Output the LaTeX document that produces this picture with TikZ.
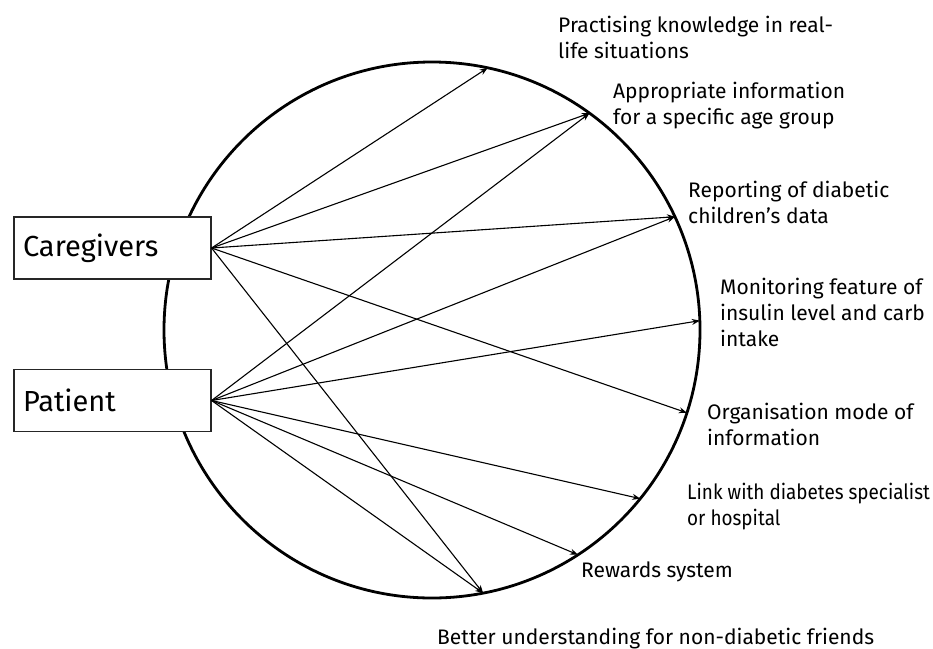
\documentclass[tikz,border=0pt]{standalone}
\usepackage{fontspec}
\setmainfont{Fira Sans}
\newfontfamily\narrowsans[FakeStretch=0.9]{Fira Sans}
\usetikzlibrary{arrows.meta}
\begin{document}
\begin{tikzpicture}[x=1pt,y=-1pt,
  ring/.style={circle,draw,line width=2.8pt,minimum size=536pt,inner sep=0pt,outer sep=0pt},
  actor/.style={draw=black!85,line width=1.2pt,fill=white,minimum width=197pt,minimum height=62pt,
    text width=179pt,inner xsep=9pt,align=left,font=\fontsize{29}{34}\selectfont},
  lbl/.style={anchor=base west,inner sep=0pt,align=left,font=\fontsize{21}{26}\selectfont},
  link/.style={line width=1.1pt,-{Stealth[length=8pt,width=6pt]}}]
\useasboundingbox (0,0) rectangle (933,648);

% the ring of features
\node[ring] (ring) at (432,330) {};

% the two user groups
\node[actor] (cg) at (112.5,248) {Caregivers};
\node[actor] (pt) at (112.5,400.5) {Patient};

% feature labels outside the ring (placed by the baseline of their last line)
\node[lbl] (l1) at (558,58)  {Practising knowledge in real-\\life situations};
\node[lbl] (l2) at (613,124) {Appropriate information\\for a specific age group};
\node[lbl] (l3) at (688,223) {Reporting of diabetic\\children’s data};
\node[lbl] (l4) at (720,346) {Monitoring feature of\\insulin level and carb\\intake};
\node[lbl] (l5) at (707,445) {Organisation mode of\\information};
\node[lbl,font=\narrowsans\fontsize{21}{26}\selectfont] (l6) at (687,525) {Link with diabetes specialist\\or hospital};
\node[lbl] (l7) at (581,577) {Rewards system};
\node[lbl] (l8) at (437,644) {Better understanding for non-diabetic friends};

% caregivers' links
\draw[link] (cg.east) -- (ring.78.5);
\draw[link] (cg.east) -- (ring.54.6);
\draw[link] (cg.east) -- (ring.25.1);
\draw[link] (cg.east) -- (ring.-18.2);
\draw[link] (cg.east) -- (ring.-79);

% patient's links
\draw[link] (pt.east) -- (ring.54.6);
\draw[link] (pt.east) -- (ring.25.1);
\draw[link] (pt.east) -- (ring.2.4);
\draw[link] (pt.east) -- (ring.-39.3);
\draw[link] (pt.east) -- (ring.-57.4);
\draw[link] (pt.east) -- (ring.-79);
\end{tikzpicture}
\end{document}
